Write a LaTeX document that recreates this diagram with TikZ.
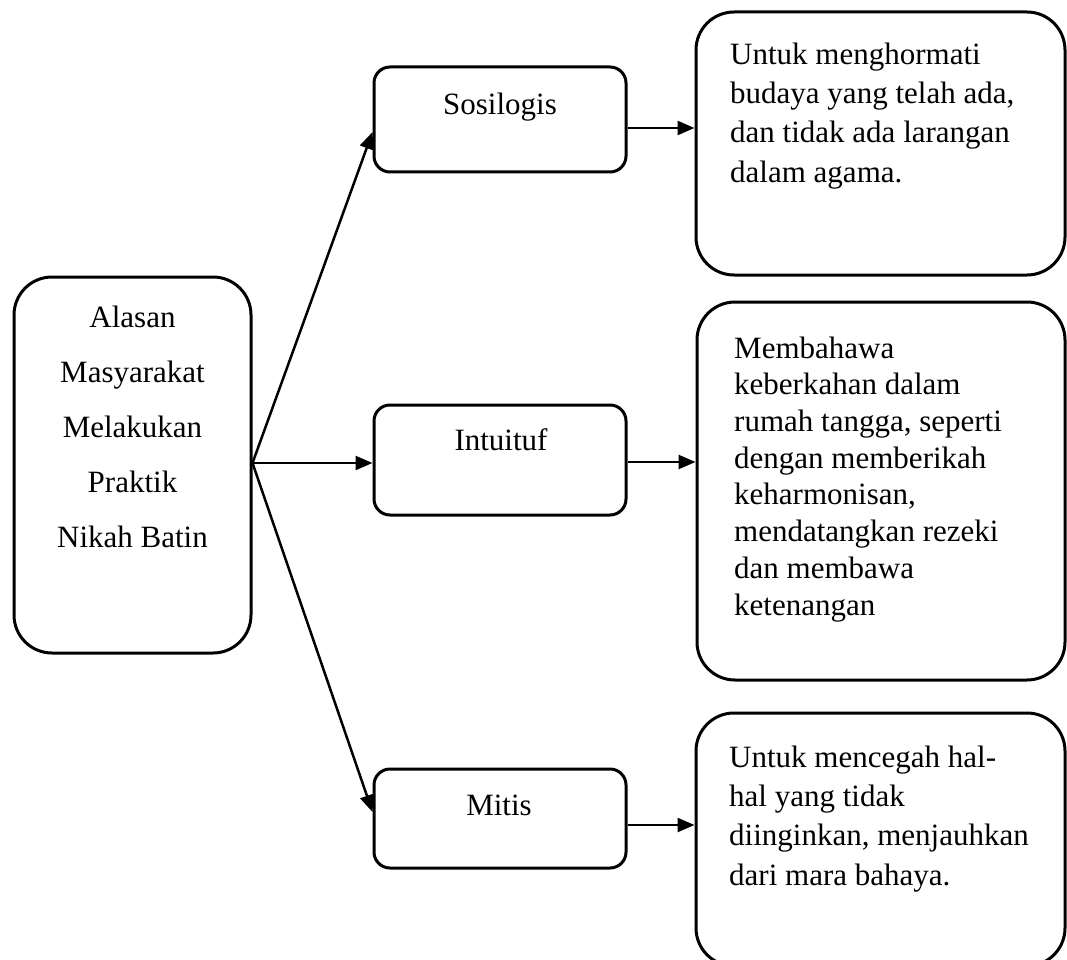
\documentclass[tikz,border=0pt]{standalone}
\usepackage{fontspec}
\setmainfont{Liberation Serif}
\usetikzlibrary{arrows.meta}
\begin{document}
\begin{tikzpicture}[x=1pt,y=-1pt,
  bigbox/.style={draw, line width=3pt, rounded corners=#1, inner sep=0pt},
  bigbox/.default=16pt,
  arr/.style={line width=2.5pt, -{Triangle[length=17pt,width=14pt]}},
  txt/.style={inner sep=0pt, font={\fontsize{31}{39.3}\selectfont}}
]
\useasboundingbox (0,0) rectangle (1067,960);
\clip (0,0) rectangle (1067,960);

% left box
\node[bigbox=38pt, minimum width=237pt, minimum height=376pt] (alasan) at (132.5,465) {};
\node[txt, anchor=north, align=center, font={\fontsize{31}{55}\selectfont}] (alasant) at (132.5,288.5)
  {\strut Alasan\\Masyarakat\\Melakukan\\Praktik\\Nikah Batin};

% middle boxes
\node[bigbox, minimum width=252pt, minimum height=105pt] (sos) at (500,119.5) {};
\node[txt, anchor=base] (sost) at (500,115) {Sosilogis};
\node[bigbox, minimum width=252pt, minimum height=110pt] (int) at (500,460) {};
\node[txt, anchor=base] (intt) at (501,450) {Intuituf};
\node[bigbox, minimum width=252pt, minimum height=99pt] (mit) at (500,818.5) {};
\node[txt, anchor=base] (mitt) at (499,815) {Mitis};

% right boxes
\node[bigbox=38pt, minimum width=369pt, minimum height=263pt] (r1) at (880.5,143.5) {};
\node[txt, anchor=north west, align=left] (r1t) at (730,36.5)
  {\strut Untuk menghormati\\budaya yang telah ada,\\dan tidak ada larangan\\dalam agama.};
\node[bigbox=38pt, minimum width=368pt, minimum height=378pt] (r2) at (881,491) {};
\node[txt, anchor=north west, align=left, font={\fontsize{31}{36.7}\selectfont}] (r2t) at (734,332.3)
  {\strut Membahawa\\keberkahan dalam\\rumah tangga, seperti\\dengan memberikah\\keharmonisan,\\mendatangkan rezeki\\dan membawa\\ketenangan};
\node[bigbox=38pt, minimum width=369pt, minimum height=253pt] (r3) at (880.5,839.5) {};
\node[txt, anchor=north west, align=left] (r3t) at (729,739.5)
  {\strut Untuk mencegah hal-\\hal yang tidak\\diinginkan, menjauhkan\\dari mara bahaya.};

% connectors
\coordinate (fan) at ([yshift=2pt]alasan.east);
\draw[arr] (fan) -- ([yshift=-12.5pt]sos.west);
\draw[arr] (fan) -- (fan -| int.west);
\draw[arr] (fan) -- ([yshift=6.5pt]mit.west);

\draw[arr] ([yshift=-8.5pt]sos.east) -- ([yshift=-8.5pt]sos.east -| r1.west);
\draw[arr] ([yshift=-2pt]int.east) -- ([yshift=-2pt]int.east -| r2.west);
\draw[arr] ([yshift=-6.5pt]mit.east) -- ([yshift=-6.5pt]mit.east -| r3.west);
\end{tikzpicture}
\end{document}
